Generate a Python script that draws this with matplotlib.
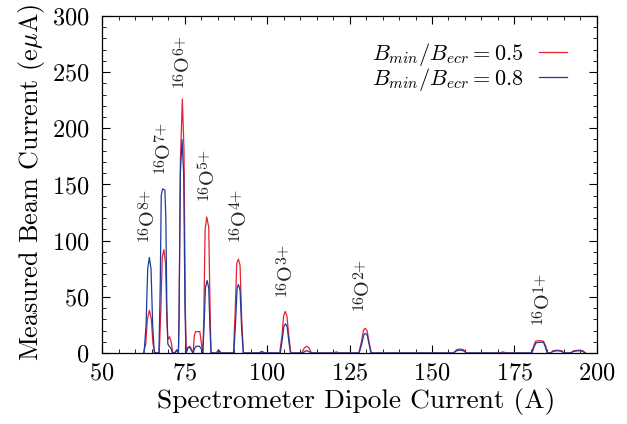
import matplotlib
matplotlib.use("Agg")
import matplotlib.pyplot as plt
from matplotlib.ticker import MultipleLocator

plt.rcParams["font.family"] = "serif"
plt.rcParams["font.serif"] = ["cmr10"]
plt.rcParams["mathtext.fontset"] = "cm"
plt.rcParams["axes.unicode_minus"] = False
plt.rcParams["axes.formatter.use_mathtext"] = True

# spectrum, B_min/B_ecr = 0.5
x_05 = [62.5, 63.2, 63.7, 64.3, 64.9, 65.4, 66.0,
        67.3, 67.8, 68.2, 68.7, 69.2, 69.6, 69.9, 70.4, 70.9, 71.4,
        72.0, 72.6, 73.1, 73.3, 73.7, 74.3, 74.8, 75.2, 75.5,
        76.0, 76.6, 77.1, 77.6, 77.9, 78.3, 79.6, 80.1, 80.5,
        80.8, 81.2, 81.7, 82.3, 82.7, 83.0,
        84.6, 85.3, 86.0,
        89.8, 90.3, 90.8, 91.3, 91.8, 92.3, 92.8,
        97.5, 98.4, 99.3,
        103.8, 104.5, 105.0, 105.5, 106.0, 106.6, 107.2,
        110.5, 111.3, 112.0, 112.7, 113.5,
        120.0, 121.0, 122.0,
        127.8, 128.6, 129.2, 129.7, 130.3, 130.9, 131.6,
        156.5, 157.5, 158.5, 159.5, 160.5,
        170.5, 171.5, 172.5,
        180.2, 180.8, 181.4, 182.5, 183.8, 184.5, 185.0,
        186.0, 186.7, 188.0, 189.3, 190.0,
        192.0, 193.0, 194.5, 195.7, 196.5]
y_05 = [0, 8, 30, 38, 30, 8, 0,
        0, 40, 85, 92, 80, 30, 12, 14.5, 10, 0,
        0, 3, 0, 30, 170, 226, 180, 40, 0,
        5, 6, 3, 0, 15, 19, 19, 8, 0,
        30, 110, 121, 112, 40, 0,
        0, 3, 0,
        0, 35, 80, 83.5, 78, 30, 0,
        0, 1.5, 0,
        0, 15, 33, 37, 33, 15, 0,
        0, 4.5, 6, 4.5, 0,
        0, 1, 0,
        0, 10, 20, 22, 20, 10, 0,
        0, 3, 3.5, 3, 0,
        0, 1, 0,
        0, 6, 10.5, 11, 10.5, 6, 0,
        0, 2, 2.5, 2, 0,
        0, 2, 2.5, 2, 0]

# spectrum, B_min/B_ecr = 0.8
x_08 = [62.7, 63.3, 63.8, 64.3, 64.8, 65.3, 65.8,
        67.2, 67.6, 67.9, 68.3, 69.0, 69.3, 69.6, 69.9, 70.4, 70.9, 71.3,
        72.0, 72.6, 73.1, 73.3, 73.7, 74.2, 74.7, 75.1, 75.4,
        76.0, 76.6, 77.1, 77.6, 78.0, 78.5, 79.5, 80.2, 80.5,
        80.9, 81.3, 81.8, 82.3, 82.7, 83.0,
        84.6, 85.3, 86.0,
        89.9, 90.4, 90.9, 91.3, 91.8, 92.3, 92.8,
        97.5, 98.4, 99.3,
        104.0, 104.6, 105.1, 105.6, 106.1, 106.6, 107.1,
        110.8, 111.5, 112.0, 112.6, 113.3,
        127.9, 128.7, 129.3, 129.8, 130.4, 130.9, 131.5,
        156.5, 157.5, 158.5, 159.5, 160.5,
        180.3, 180.9, 181.5, 182.5, 183.8, 184.4, 184.9,
        186.0, 186.7, 188.0, 189.3, 190.0,
        192.0, 193.0, 194.5, 195.7, 196.5]
y_08 = [0, 25, 75, 85, 75, 25, 0,
        0, 60, 140, 146, 145, 120, 40, 8, 5.6, 4, 0,
        0, 2.5, 0, 30, 160, 190, 160, 40, 0,
        4.5, 5, 2, 0, 4, 6, 6, 3, 0,
        25, 58, 64.5, 58, 20, 0,
        0, 2, 0,
        0, 25, 58, 61, 56, 20, 0,
        0, 1, 0,
        0, 12, 24, 26, 23, 10, 0,
        0, 1.5, 2, 1.5, 0,
        0, 8, 16, 17.5, 15.5, 8, 0,
        0, 2, 2.5, 2, 0,
        0, 5, 9, 9.5, 9.5, 5, 0,
        0, 1.5, 2, 1.5, 0,
        0, 1.5, 2, 1.5, 0]

# charge state labels: centre x and bottom y of each label
ions = ["8+", "7+", "6+", "5+", "4+", "3+", "2+", "1+"]
ion_x = [63.0, 67.9, 73.6, 81.2, 90.8, 105.0, 128.2, 182.7]
ion_y = [100, 160, 237, 136, 100, 51, 38, 26]

fig = plt.figure(figsize=(6.27, 4.24), dpi=100)
ax = fig.add_axes([0.163, 0.1675, 0.789, 0.795])

ax.plot(x_05, y_05, color="#e8202f", lw=0.9, label=r"$B_{min}/B_{ecr} = 0.5$")
ax.plot(x_08, y_08, color="#1e3c9c", lw=0.9, label=r"$B_{min}/B_{ecr} = 0.8$")

# rotated "^16 O ^q" labels, built from three pieces (sup size ~0.8 of O)
big, small = 14.5, 11.5
for q, xq, yq in zip(ions, ion_x, ion_y):
    kw = dict(xy=(xq, yq), textcoords="offset points", rotation=90,
              rotation_mode="anchor", ha="left", va="baseline",
              color="#222222", annotation_clip=False)
    ax.annotate("16", xytext=(1.5, 0), fontsize=small, **kw)
    ax.annotate("O", xytext=(5.5, 11.3), fontsize=big, **kw)
    ax.annotate(q, xytext=(1.5, 22.6), fontsize=small, **kw)

ax.set_xlim(50, 200)
ax.set_ylim(0, 300)
ax.xaxis.set_major_locator(MultipleLocator(25))
ax.xaxis.set_minor_locator(MultipleLocator(5))
ax.yaxis.set_major_locator(MultipleLocator(50))
ax.yaxis.set_minor_locator(MultipleLocator(10))
ax.tick_params(which="both", direction="in", top=True, right=True,
               labelsize=17.5)
ax.tick_params(axis="x", pad=7)
ax.tick_params(axis="y", pad=9)
ax.tick_params(which="major", length=6, width=0.8)
ax.tick_params(which="minor", length=3, width=0.6)
for s in ax.spines.values():
    s.set_linewidth(0.9)

ax.set_xlabel("Spectrometer Dipole Current (A)", fontsize=19.7, labelpad=4)
ax.set_ylabel(r"Measured Beam Current (e$\mu$A)", fontsize=18.8, labelpad=4)
ax.xaxis.set_label_coords(0.514, -0.105)
ax.yaxis.set_label_coords(-0.112, 0.505)

ax.legend(loc="upper right", frameon=False, markerfirst=False, fontsize=16,
          handlelength=1.25, handletextpad=0.7, labelspacing=-0.12,
          borderpad=0, borderaxespad=0, bbox_to_anchor=(0.939, 0.925))

fig.savefig("out.png", dpi=100)
